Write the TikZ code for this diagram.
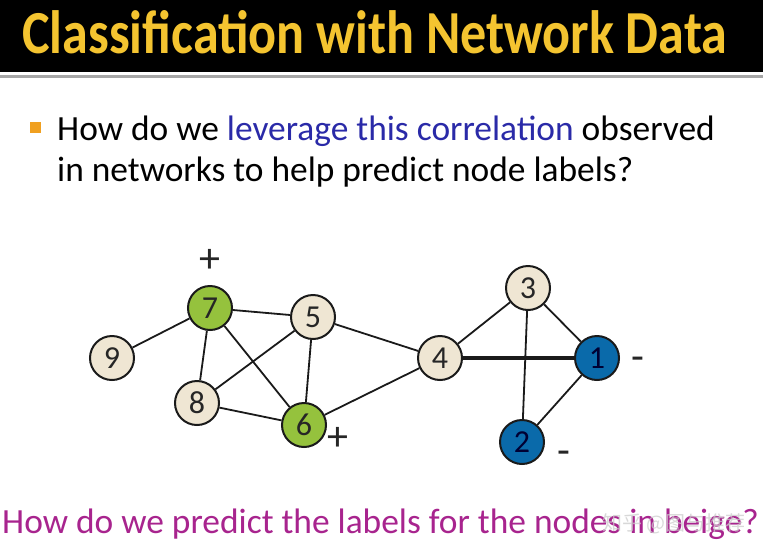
\documentclass[tikz,border=0pt]{standalone}
\usepackage{fontspec}
\setmainfont{Carlito}
\newfontfamily\cjkfont{Noto Sans CJK SC}
\definecolor{titlegold}{HTML}{F4C430}
\definecolor{beige}{HTML}{EFE6D3}
\definecolor{leafgreen}{HTML}{95C23D}
\definecolor{deepblue}{HTML}{0A6AAA}
\definecolor{navytext}{HTML}{2A2AA8}
\definecolor{magentatext}{HTML}{A8248E}
\definecolor{bulletorange}{HTML}{F0A020}
\definecolor{edgeblack}{HTML}{1A1A1A}
\tikzset{
  gnode/.style={circle, draw=edgeblack, line width=2pt, minimum size=44pt, inner sep=0pt, font=\fontsize{32}{32}\selectfont, text=black!85},
  beigenode/.style={gnode, fill=beige},
  greennode/.style={gnode, fill=leafgreen},
  bluenode/.style={gnode, fill=deepblue, text=black!80!blue},
  edge/.style={draw=edgeblack, line width=1.8pt},
  thickedge/.style={draw=edgeblack, line width=3.5pt},
  sign/.style={font=\fontsize{42}{42}\selectfont, text=black!85, inner sep=0pt},
  bodytext/.style={anchor=base west, inner sep=0pt, font=\fontsize{35.4}{42}\selectfont},
}
\begin{document}
\begin{tikzpicture}[x=1pt,y=-1pt]
\useasboundingbox (0,0) rectangle (763,555);
\fill[white] (0,0) rectangle (763,555);
% title bar
\fill[black] (0,0) rectangle (763,72);
\fill[black!35] (0,75) rectangle (763,78);
\node[anchor=base west, inner sep=0pt, text=titlegold, font=\bfseries] (title) at (22,53) {\resizebox{705pt}{43pt}{Classification with Network Data}};
% bullet
\fill[bulletorange] (30,122) rectangle (41,133);
\node[bodytext] (line1) at (57,140) {How do we \textcolor{navytext}{leverage this correlation} observed};
\node[bodytext] (line2) at (57,181) {in networks to help predict node labels?};
% graph
\node[greennode] (n7) at (210,308) {7};
\node[beigenode] (n5) at (313,317) {5};
\node[beigenode] (n9) at (112,358) {9};
\node[beigenode] (n8) at (197,403) {8};
\node[greennode] (n6) at (304,425) {6};
\node[beigenode] (n4) at (440,358) {4};
\node[beigenode] (n3) at (528,288) {3};
\node[bluenode] (n1) at (597,358) {1};
\node[bluenode] (n2) at (522,442) {2};
\path[edge] (n7) -- (n9);
\path[edge] (n7) -- (n5);
\path[edge] (n7) -- (n8);
\path[edge] (n7) -- (n6);
\path[edge] (n5) -- (n8);
\path[edge] (n5) -- (n6);
\path[edge] (n5) -- (n4);
\path[edge] (n8) -- (n6);
\path[edge] (n6) -- (n4);
\path[edge] (n4) -- (n3);
\path[thickedge] (n4) -- (n1);
\path[edge] (n3) -- (n1);
\path[edge] (n3) -- (n2);
\path[edge] (n1) -- (n2);
% signs
\node[sign] (p7) at (210,261) {+};
\node[sign] (p6) at (338,439) {+};
\node[sign] (m1) at (638,364) {-};
\node[sign] (m2) at (564,458) {-};
% bottom question
\node[bodytext, text=magentatext] (question) at (2,533) {How do we predict the labels for the nodes in beige?};
\node[anchor=base west, inner sep=0pt, text=black!20, opacity=0.75, font=\cjkfont\fontsize{20}{20}\selectfont] (wm) at (602,530) {知乎 @图与推荐};
\end{tikzpicture}
\end{document}
